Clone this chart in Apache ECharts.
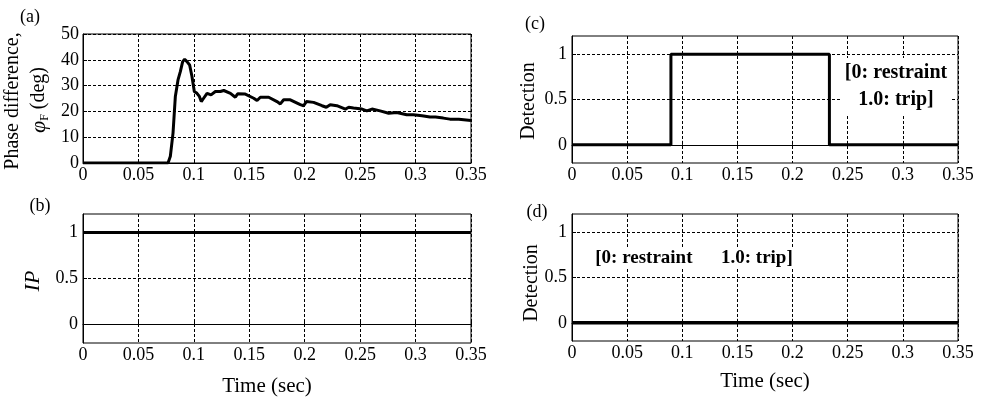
<!DOCTYPE html>
<html>
<head>
<meta charset="utf-8">
<script src="https://cdn.jsdelivr.net/npm/echarts@6/dist/echarts.min.js"></script>
<style>
  html, body { margin: 0; padding: 0; background: #fff; }
  #chart { width: 983px; height: 399px; }
</style>
</head>
<body>
<div id="chart"></div>
<script>
// (a) phase difference, deg
const phaseTime = [0, 0.0767, 0.0788, 0.0812, 0.0833, 0.0857, 0.0878, 0.0899, 0.0917, 0.0938, 0.0962,
  0.0983, 0.1004, 0.1028, 0.105, 0.1067, 0.1088, 0.1119, 0.1155, 0.1194, 0.1239, 0.127, 0.133,
  0.1374, 0.1395, 0.1464, 0.154, 0.157, 0.16, 0.1675, 0.175, 0.178, 0.181, 0.187, 0.196, 0.199,
  0.2015, 0.208, 0.2156, 0.2195, 0.223, 0.229, 0.2367, 0.2397, 0.244, 0.2517, 0.256, 0.2607,
  0.268, 0.2757, 0.283, 0.292, 0.298, 0.3058, 0.313, 0.318, 0.325, 0.331, 0.339, 0.35]
const phaseDeg = [0, 0, 2.6, 11.6, 25.8, 32.2, 35.4, 39.3, 40.2, 39.3, 38,
  33.5, 27.7, 27, 25.8, 23.8, 25.1, 27, 26.4, 27.7, 27.7, 28.1, 27,
  25.5, 26.8, 26.7, 25.1, 24.2, 25.5, 25.5, 23.8, 22.9, 24.5, 24.5, 22.6, 22.2,
  23.8, 23.5, 22.2, 21.6, 22.6, 22.2, 20.9, 21.6, 21.3, 20.9, 20.2, 20.9,
  20.2, 19.3, 19.6, 18.7, 18.7, 18.3, 17.8, 17.8, 17.4, 17, 17, 16.5]

// (b) IP
const ipTime = [0, 0.35]
const ipValue = [1, 1]

// (c) detection, case 1
const detCTime = [0, 0.0897, 0.0897, 0.2334, 0.2334, 0.35]
const detCValue = [0, 0, 1, 1, 0, 0]

// (d) detection, case 2
const detDTime = [0, 0.35]
const detDValue = [0, 0]

const unitTicks = [0, 0.5, 1]

const serif = 'Liberation Serif'
const tickFont = 18
const dashed = { show: true, lineStyle: { color: '#000', width: 1, type: [3, 2] } }

function pairs(xs, ys) {
  return xs.map(function (x, i) { return [x, ys[i]] })
}

function timeAxis(gridIndex) {
  return {
    type: 'value', gridIndex: gridIndex, min: 0, max: 0.35, interval: 0.05,
    axisLine: { lineStyle: { color: '#000', width: 1 } },
    axisTick: { inside: true, length: 4, lineStyle: { color: '#000' } },
    axisLabel: {
      color: '#000', fontFamily: serif, fontSize: tickFont, margin: 3,
      formatter: function (v) { return String(+v.toFixed(2)) },
    },
    splitLine: dashed,
  }
}

function unitAxis(gridIndex) {
  return {
    type: 'value', gridIndex: gridIndex, min: -0.2, max: 1.2,
    axisLine: { show: true, lineStyle: { color: '#000', width: 1 } },
    axisTick: { inside: true, length: 4, customValues: unitTicks, lineStyle: { color: '#000' } },
    axisLabel: { color: '#000', fontFamily: serif, fontSize: tickFont, margin: 5, customValues: unitTicks },
    splitLine: dashed,
  }
}

function lineSeries(idx, data, width, zeroLine) {
  const s = {
    type: 'line', xAxisIndex: idx, yAxisIndex: idx, data: data,
    showSymbol: false, symbol: 'none', animation: false, z: 5,
    lineStyle: { color: '#000', width: width },
  }
  if (zeroLine) {
    s.markLine = {
      silent: true, symbol: 'none', animation: false,
      label: { show: false },
      lineStyle: { color: '#000', width: 1, type: 'solid' },
      data: [{ yAxis: 0 }],
    }
  }
  return s
}

function label(x, y, text, font, extra) {
  return Object.assign({
    type: 'text', x: x, y: y, z: 10,
    style: { text: text, font: font, fill: '#000', align: 'center', verticalAlign: 'middle' },
  }, extra || {})
}

const grid = function (left, top, width, height) {
  return {
    left: left, top: top, width: width, height: height, show: true,
    borderColor: '#000', borderWidth: 1, outerBoundsMode: 'none',
  }
}

const chart = echarts.init(document.getElementById('chart'))

chart.setOption({
  backgroundColor: '#fff',
  animation: false,
  grid: [grid(83, 34, 388, 129), grid(83, 214, 388, 129), grid(572, 36, 386, 127), grid(572, 214, 386, 127)],
  xAxis: [timeAxis(0), timeAxis(1), timeAxis(2), timeAxis(3)],
  yAxis: [
    {
      type: 'value', gridIndex: 0, min: 0, max: 50, interval: 10,
      axisLine: { show: true, lineStyle: { color: '#000', width: 1 } },
      axisTick: { inside: true, length: 4, lineStyle: { color: '#000' } },
      axisLabel: { color: '#000', fontFamily: serif, fontSize: tickFont, margin: 4 },
      splitLine: dashed,
    },
    unitAxis(1), unitAxis(2), unitAxis(3),
  ],
  series: [
    lineSeries(0, pairs(phaseTime, phaseDeg), 3, false),
    lineSeries(1, pairs(ipTime, ipValue), 3, true),
    lineSeries(2, pairs(detCTime, detCValue), 3, true),
    lineSeries(3, pairs(detDTime, detDValue), 3.5, false),
  ],
  graphic: [
    label(30, 17, '(a)', '18px ' + serif),
    label(40, 206, '(b)', '18px ' + serif),
    label(535, 24, '(c)', '18px ' + serif),
    label(537, 212, '(d)', '18px ' + serif),
    label(13, 101, 'Phase difference,', '20px ' + serif, { rotation: Math.PI / 2 }),
    {
      type: 'text', x: 39, y: 100, z: 10, rotation: Math.PI / 2,
      style: {
        text: '{phi|φ}{sub|F} (deg)', font: '20px ' + serif, fill: '#000',
        align: 'center', verticalAlign: 'middle',
        rich: {
          phi: { fontFamily: serif, fontSize: 22, fontStyle: 'italic', lineHeight: 24 },
          sub: { fontFamily: serif, fontSize: 12, verticalAlign: 'bottom', lineHeight: 24 },
        },
      },
    },
    label(33, 281, 'IP', 'italic 22px ' + serif, { rotation: Math.PI / 2 }),
    label(529, 101, 'Detection', '20px ' + serif, { rotation: Math.PI / 2 }),
    label(532, 283, 'Detection', '20px ' + serif, { rotation: Math.PI / 2 }),
    label(267, 386, 'Time (sec)', '21px ' + serif),
    label(765, 381, 'Time (sec)', '21px ' + serif),
    {
      type: 'text', x: 896, y: 86, z: 10,
      style: {
        text: '[0: restraint\n1.0: trip]', font: 'bold 20px ' + serif, fill: '#000',
        align: 'center', verticalAlign: 'middle', lineHeight: 27,
        backgroundColor: '#fff', padding: [1, 3, 1, 3],
      },
    },
    {
      type: 'text', x: 694, y: 258, z: 10,
      style: {
        text: '[0: restraint      1.0: trip]', font: 'bold 19px ' + serif, fill: '#000',
        align: 'center', verticalAlign: 'middle',
        backgroundColor: '#fff', padding: [1, 2, 1, 2],
      },
    },
  ],
})
</script>
